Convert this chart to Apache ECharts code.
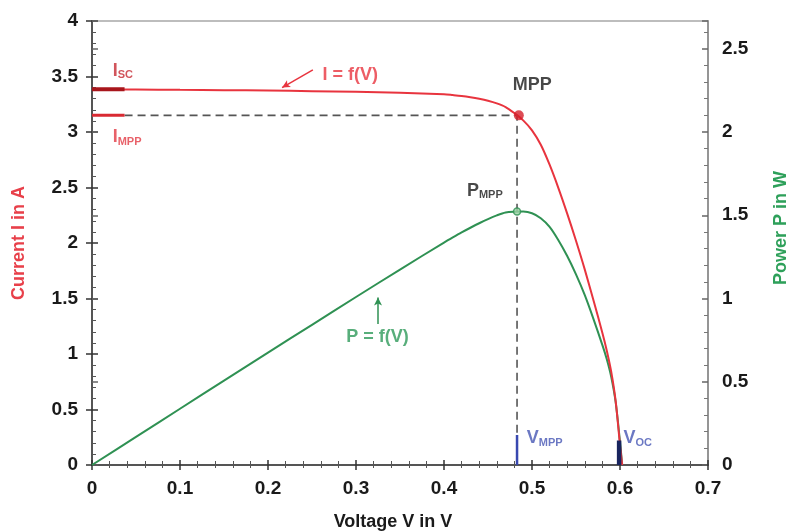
<!DOCTYPE html>
<html>
<head>
<meta charset="utf-8">
<script src="https://cdn.jsdelivr.net/npm/echarts@6/dist/echarts.min.js"></script>
<style>
html,body{margin:0;padding:0;background:#fff;}
#chart{width:788px;height:531px;}
</style>
</head>
<body>
<div id="chart"></div>
<script>
// Voltage samples (V)
const volts   = [0, 0.05, 0.1, 0.15, 0.2, 0.25, 0.3, 0.35, 0.4, 0.41, 0.42, 0.43, 0.44, 0.45, 0.46, 0.47, 0.48, 0.49, 0.5, 0.51, 0.52, 0.53, 0.54, 0.55, 0.56, 0.57, 0.58, 0.585, 0.59, 0.595, 0.6, 0.6025];
// Current I (A)
const current = [3.385, 3.383, 3.380, 3.377, 3.373, 3.368, 3.362, 3.354, 3.34, 3.333, 3.325, 3.314, 3.30, 3.282, 3.258, 3.225, 3.17, 3.105, 3.015, 2.885, 2.705, 2.495, 2.265, 2.02, 1.76, 1.48, 1.19, 1.03, 0.84, 0.58, 0.18, 0];
// Power P (W)
const power   = [0, 0.169, 0.338, 0.507, 0.675, 0.842, 1.009, 1.174, 1.336, 1.367, 1.397, 1.425, 1.452, 1.477, 1.499, 1.516, 1.521, 1.522, 1.512, 1.482, 1.43, 1.35, 1.255, 1.145, 1.02, 0.875, 0.72, 0.635, 0.53, 0.38, 0.14, 0];

// Key points
const Isc = 3.385, Impp = 3.15, Vmpp = 0.483, Pmpp = 1.522, Voc = 0.599;

const FONT = '"Liberation Sans", Arial, Helvetica, sans-serif';
const RED = '#e8343e', GREEN = '#2f9153', BLUE = '#4656b4';

const chart = echarts.init(document.getElementById('chart'));

function textPoint(x, y, fmt, rich, color) {
  return {
    type: 'scatter', xAxisIndex: 0, yAxisIndex: 0, symbolSize: 0, silent: true, z: 10,
    data: [[x, y]],
    label: {
      show: true, position: 'right', distance: 0, formatter: fmt,
      color: color, fontFamily: FONT, fontWeight: 'bold', fontSize: 18, lineHeight: 20,
      rich: rich
    }
  };
}
function subRich(color) {
  return {
    m: {fontSize: 18, lineHeight: 20, fontWeight: 'bold', fontFamily: FONT, color: color},
    s: {fontSize: 11, lineHeight: 11, fontWeight: 'bold', fontFamily: FONT, color: color, verticalAlign: 'bottom'}
  };
}

const lblStyle = {color: '#1a1a1a', fontFamily: FONT, fontWeight: 'bold', fontSize: 19};

const option = {
  animation: false,
  backgroundColor: '#fff',
  grid: {left: 92, right: 80, top: 21, bottom: 66, containLabel: false, outerBoundsMode: 'none',
         show: true, borderColor: '#bdbdbd', borderWidth: 2, backgroundColor: 'transparent'},
  xAxis: [
    {
      type: 'value', min: 0, max: 0.7, interval: 0.1, position: 'bottom',
      name: 'Voltage V in V', nameLocation: 'middle', nameGap: 48,
      nameTextStyle: {color: '#1a1a1a', fontFamily: FONT, fontWeight: 'bold', fontSize: 18, padding: [0, 14, 0, 0]},
      axisLine: {show: true, onZero: false, lineStyle: {color: '#333', width: 1.5}},
      axisTick: {show: true, inside: true, length: 5, lineStyle: {color: '#333', width: 1.5}},
      minorTick: {show: true, splitNumber: 5, length: 4, lineStyle: {color: '#555', width: 1}},
      axisLabel: Object.assign({margin: 14}, lblStyle),
      splitLine: {show: false}
    },
    {
      type: 'value', min: 0, max: 0.7, interval: 0.1, position: 'bottom',
      axisLine: {show: false}, axisLabel: {show: false}, splitLine: {show: false},
      axisTick: {show: true, inside: false, length: 5, lineStyle: {color: '#333', width: 1.5}},
      minorTick: {show: true, splitNumber: 5, length: 3, lineStyle: {color: '#555', width: 1}}
    }
  ],
  yAxis: [
    {
      type: 'value', min: 0, max: 4, interval: 0.5, position: 'left',
      name: 'Current I in A', nameLocation: 'middle', nameGap: 64, nameRotate: 90,
      nameTextStyle: {color: '#e8404a', fontFamily: FONT, fontWeight: 'bold', fontSize: 18},
      axisLine: {show: true, onZero: false, lineStyle: {color: '#333', width: 1.5}},
      axisTick: {show: true, inside: true, length: 6, lineStyle: {color: '#333', width: 1.5}},
      minorTick: {show: true, splitNumber: 5, length: 4, lineStyle: {color: '#555', width: 1}},
      axisLabel: Object.assign({margin: 14}, lblStyle),
      splitLine: {show: false}
    },
    {
      type: 'value', min: 0, max: 2.6667, interval: 0.5, position: 'right',
      name: 'Power P in W', nameLocation: 'middle', nameGap: 64, nameRotate: 90,
      nameTextStyle: {color: '#2ea05a', fontFamily: FONT, fontWeight: 'bold', fontSize: 18, padding: [0, 0, 0, 30]},
      axisLine: {show: true, onZero: false, lineStyle: {color: '#888', width: 1.5}},
      axisTick: {show: true, inside: true, length: 6, lineStyle: {color: '#666', width: 1.5}},
      minorTick: {show: true, splitNumber: 5, length: 4, lineStyle: {color: '#777', width: 1}},
      axisLabel: Object.assign({margin: 14, showMaxLabel: false}, lblStyle),
      splitLine: {show: false}
    },
    {
      type: 'value', min: 0, max: 4, interval: 0.5, position: 'left',
      axisLine: {show: false}, axisLabel: {show: false}, splitLine: {show: false},
      axisTick: {show: true, inside: false, length: 6, lineStyle: {color: '#333', width: 1.5}}
    },
    {
      type: 'value', min: 0, max: 2.6667, interval: 0.5, position: 'right',
      axisLine: {show: false}, axisLabel: {show: false, showMaxLabel: false}, splitLine: {show: false},
      axisTick: {show: true, inside: false, length: 6, lineStyle: {color: '#666', width: 1.5}}
    }
  ],
  series: [
    // guide dashed line
    {
      type: 'line', xAxisIndex: 0, yAxisIndex: 0, silent: true, showSymbol: false, z: 3,
      data: [[0.037, Impp], [Vmpp, Impp], [Vmpp, 0.27]],
      lineStyle: {color: '#555', width: 1.6, type: [8, 5]}
    },
    // I = f(V)
    {
      type: 'line', xAxisIndex: 0, yAxisIndex: 0, showSymbol: false, smooth: 0.3, z: 5,
      data: volts.map((v, i) => [v, current[i]]),
      lineStyle: {color: RED, width: 2}
    },
    // P = f(V)
    {
      type: 'line', xAxisIndex: 0, yAxisIndex: 1, showSymbol: false, smooth: 0.3, z: 4,
      data: volts.map((v, i) => [v, power[i]]),
      lineStyle: {color: GREEN, width: 2}
    },
    // Isc marker segment
    {
      type: 'line', xAxisIndex: 0, yAxisIndex: 0, showSymbol: false, silent: true, z: 6,
      data: [[0, Isc], [0.037, Isc]], lineStyle: {color: '#a8161c', width: 4}
    },
    // Impp marker segment
    {
      type: 'line', xAxisIndex: 0, yAxisIndex: 0, showSymbol: false, silent: true, z: 6,
      data: [[0, Impp], [0.037, Impp]], lineStyle: {color: '#d92a32', width: 3}
    },
    // Vmpp bar
    {
      type: 'line', xAxisIndex: 0, yAxisIndex: 0, showSymbol: false, silent: true, z: 6,
      data: [[Vmpp, 0], [Vmpp, 0.27]], lineStyle: {color: '#3848b0', width: 2.5}
    },
    // Voc bar
    {
      type: 'line', xAxisIndex: 0, yAxisIndex: 0, showSymbol: false, silent: true, z: 6,
      data: [[Voc, 0], [Voc, 0.22]], lineStyle: {color: '#18245e', width: 4.5}
    },
    // MPP dot
    {
      type: 'scatter', xAxisIndex: 0, yAxisIndex: 0, symbolSize: 10, z: 8,
      data: [[Vmpp + 0.002, Impp]], itemStyle: {color: '#d41f2a'}
    },
    // Pmpp dot
    {
      type: 'scatter', xAxisIndex: 0, yAxisIndex: 1, symbolSize: 7, z: 8,
      data: [[Vmpp, Pmpp]], itemStyle: {color: '#9fd3a8', borderColor: GREEN, borderWidth: 1.5}
    },
    // arrows
    {
      type: 'line', xAxisIndex: 0, yAxisIndex: 0, data: [], silent: true,
      markLine: {
        silent: true, animation: false, symbol: ['none', 'arrow'], symbolSize: [6, 8],
        label: {show: false},
        data: [
          [{coord: [0.251, 3.56], lineStyle: {color: RED, width: 1.5, type: 'solid'}}, {coord: [0.216, 3.40]}],
          [{coord: [0.325, 1.27], lineStyle: {color: GREEN, width: 1.5, type: 'solid'}}, {coord: [0.325, 1.51]}]
        ]
      }
    },
    // text labels
    textPoint(0.0235, 3.55, '{m|I}{s|SC}', subRich('#c62a33'), '#c62a33'),
    textPoint(0.0235, 2.955, '{m|I}{s|MPP}', subRich('#e23a44'), '#e23a44'),
    textPoint(0.262, 3.51, '{m|I = f(V)}', subRich(RED), RED),
    textPoint(0.478, 3.42, '{m|MPP}', subRich('#1a1a1a'), '#1a1a1a'),
    textPoint(0.426, 2.47, '{m|P}{s|MPP}', subRich('#1a1a1a'), '#1a1a1a'),
    textPoint(0.289, 1.15, '{m|P = f(V)}', subRich('#2e9a5a'), '#2e9a5a'),
    textPoint(0.494, 0.24, '{m|V}{s|MPP}', subRich(BLUE), BLUE),
    textPoint(0.604, 0.24, '{m|V}{s|OC}', subRich(BLUE), BLUE)
  ]
};
chart.setOption(option);
</script>
</body>
</html>
